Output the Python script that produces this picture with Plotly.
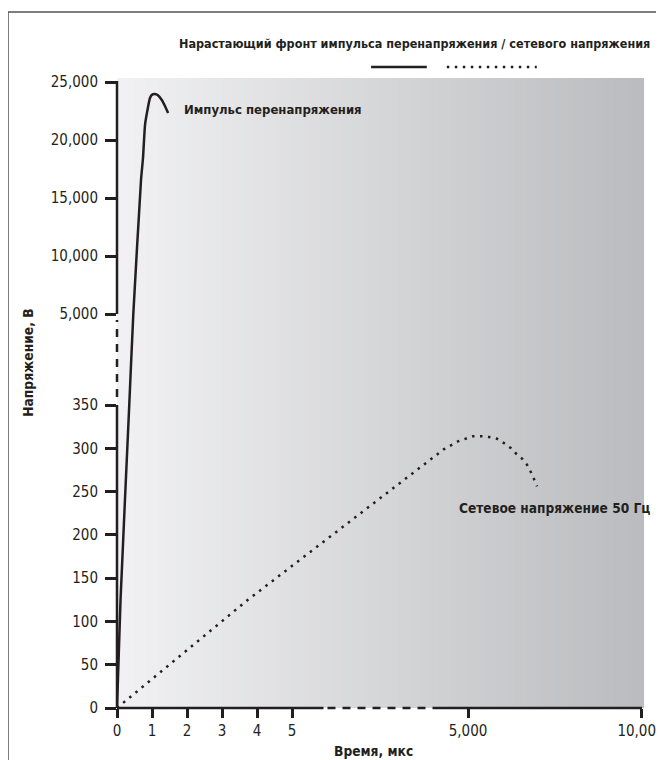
import numpy as np
import plotly.graph_objects as go

# values: time in µs, voltage in V
impulse_t = [0, 0.1, 0.35, 0.466, 0.686, 0.743, 0.80, 0.88, 0.94, 0.99, 1.086, 1.17, 1.28, 1.37, 1.46]
impulse_v = [0, 124, 350, 5000, 16550, 18450, 21290, 22730, 23600, 23880, 23970, 23850, 23450, 22930, 22330]

mains_t = [0, 3.74, 4306, 4711, 5145, 5376, 5607, 5838, 6040, 6243, 6387, 6561, 6705, 6850, 6994]
mains_v = [0, 125, 299, 308, 314, 314, 313, 311, 306, 300, 294, 288, 281, 270, 256]

x_ticks = [0, 1, 2, 3, 4, 5, 5000, 10000]
x_tick_labels = ['0', '1', '2', '3', '4', '5', '5,000', '10,000']
y_ticks = [0, 50, 100, 150, 200, 250, 300, 350, 5000, 10000, 15000, 20000, 25000]
y_tick_labels = ['0', '50', '100', '150', '200', '250', '300', '350',
                 '5,000', '10,000', '15,000', '20,000', '25,000']

FONT = 'Liberation Sans Narrow, DejaVu Sans Condensed, Arial Narrow, sans-serif'
INK = '#231f20'
W, H = 526, 630  # plot area size in axis units (1 unit = 1 px)


# broken axes: two linear pieces on each axis, with a gap between them
def sx(t):
    return t * 35 if t <= 10 else 351 + (t - 5000) * 173 / 5000


def sy(v):
    return v * 303 / 350 if v <= 350 else 394 + (v - 5000) * 232 / 20000


fig = go.Figure()

fig.add_trace(go.Scatter(
    x=[sx(t) for t in impulse_t], y=[sy(v) for v in impulse_v],
    mode='lines', line=dict(color=INK, width=2.5, shape='spline', smoothing=0.4),
    name='Импульс перенапряжения', showlegend=False
))
fig.add_trace(go.Scatter(
    x=[sx(t) for t in mains_t], y=[sy(v) for v in mains_v],
    mode='lines', line=dict(color=INK, width=2.5, dash='2.5px,5.5px'),
    name='Сетевое напряжение 50 Гц', showlegend=False
))

shapes = []

# grey gradient behind the plot
n = 90
left = np.array([242, 242, 244])
right = np.array([187, 188, 191])
for i in range(n):
    c = left + (right - left) * (i + 0.5) / n
    shapes.append(dict(
        type='rect', xref='paper', yref='paper',
        x0=i / n, x1=(i + 1) / n + 0.002, y0=0, y1=1,
        fillcolor='rgb(%d,%d,%d)' % tuple(c), line=dict(width=0), layer='below'
    ))


def seg(x0, x1, y0, y1, line):
    # paper refs so the axis lines are not clipped by the plot area
    return dict(type='line', xref='paper', yref='paper',
                x0=x0 / W, x1=x1 / W, y0=y0 / H, y1=y1 / H, line=line)


# axis lines with dashed breaks
solid = dict(color=INK, width=2.5)
dashed = dict(color=INK, width=2.5, dash='8px,7px')
shapes += [
    seg(0, sx(5.9), 0, 0, solid),
    seg(sx(5.9) + 4, sx(4104), 0, 0, dashed),
    seg(sx(4104), sx(10000) + 1, 0, 0, solid),
    seg(0, 0, 0, sy(350), solid),
    seg(0, 0, sy(350) + 8, sy(5000) - 6, dashed),
    seg(0, 0, sy(5000), sy(25000) + 1, solid),
]

# legend samples under the heading
shapes += [
    dict(type='line', xref='paper', yref='paper', x0=0.483, x1=0.589, y0=1.0175, y1=1.0175,
         line=dict(color=INK, width=2.5)),
    dict(type='line', xref='paper', yref='paper', x0=0.627, x1=0.798, y0=1.0175, y1=1.0175,
         line=dict(color=INK, width=2.5, dash='2.5px,5.5px')),
]

# outer frame
shapes.append(dict(type='rect', xref='paper', yref='paper',
                   x0=-0.2072, x1=1.2, y0=-0.2, y1=1.1048,
                   line=dict(color='#555555', width=1.5), fillcolor='rgba(0,0,0,0)'))

annotations = [
    dict(text='<b>Нарастающий фронт импульса перенапряжения / сетевого напряжения</b>',
         xref='paper', yref='paper', x=1.017, y=1.054, xanchor='right', yanchor='middle',
         showarrow=False, font=dict(size=12.5, color=INK, family=FONT)),
    dict(text='<b>Импульс перенапряжения</b>', xref='x', yref='y',
         x=65, y=599, xanchor='left', yanchor='middle',
         showarrow=False, font=dict(size=13, color=INK, family=FONT)),
    dict(text='<b>Сетевое напряжение 50 Гц</b>', xref='x', yref='y',
         x=340, y=200, xanchor='left', yanchor='middle',
         showarrow=False, font=dict(size=13.6, color=INK, family=FONT)),
    dict(text='<b>Время, мкс</b>', xref='paper', yref='paper',
         x=0.4867, y=-0.0683, xanchor='center', yanchor='middle',
         showarrow=False, font=dict(size=13.7, color=INK, family=FONT)),
    dict(text='<b>Напряжение, В</b>', xref='paper', yref='paper',
         x=-0.1692, y=0.548, xanchor='center', yanchor='middle', textangle=-90,
         showarrow=False, font=dict(size=13.7, color=INK, family=FONT)),
]

# the page body adds 8px on the left and top, so the figure is 8px smaller
fig.update_layout(
    width=656, height=752,
    margin=dict(l=109, r=21, t=70, b=52, autoexpand=False),
    paper_bgcolor='white', plot_bgcolor='white',
    font=dict(family=FONT, color=INK, size=15),
    shapes=shapes, annotations=annotations,
    showlegend=False,
)
fig.update_xaxes(
    range=[0, W], showgrid=False, zeroline=False, showline=False,
    tickmode='array', tickvals=[sx(t) for t in x_ticks], ticktext=x_tick_labels,
    ticks='outside', ticklen=9, tickwidth=2.5, tickcolor=INK,
    ticklabeloverflow='allow', automargin=False,
    tickfont=dict(size=15, color=INK, family=FONT)
)
fig.update_yaxes(
    range=[0, H], showgrid=False, zeroline=False, showline=False,
    tickmode='array', tickvals=[sy(v) for v in y_ticks], ticktext=y_tick_labels,
    ticks='outside', ticklen=11, tickwidth=2.5, tickcolor=INK,
    ticklabelstandoff=4, automargin=False,
    tickfont=dict(size=15, color=INK, family=FONT)
)

fig.write_html('out.html')
